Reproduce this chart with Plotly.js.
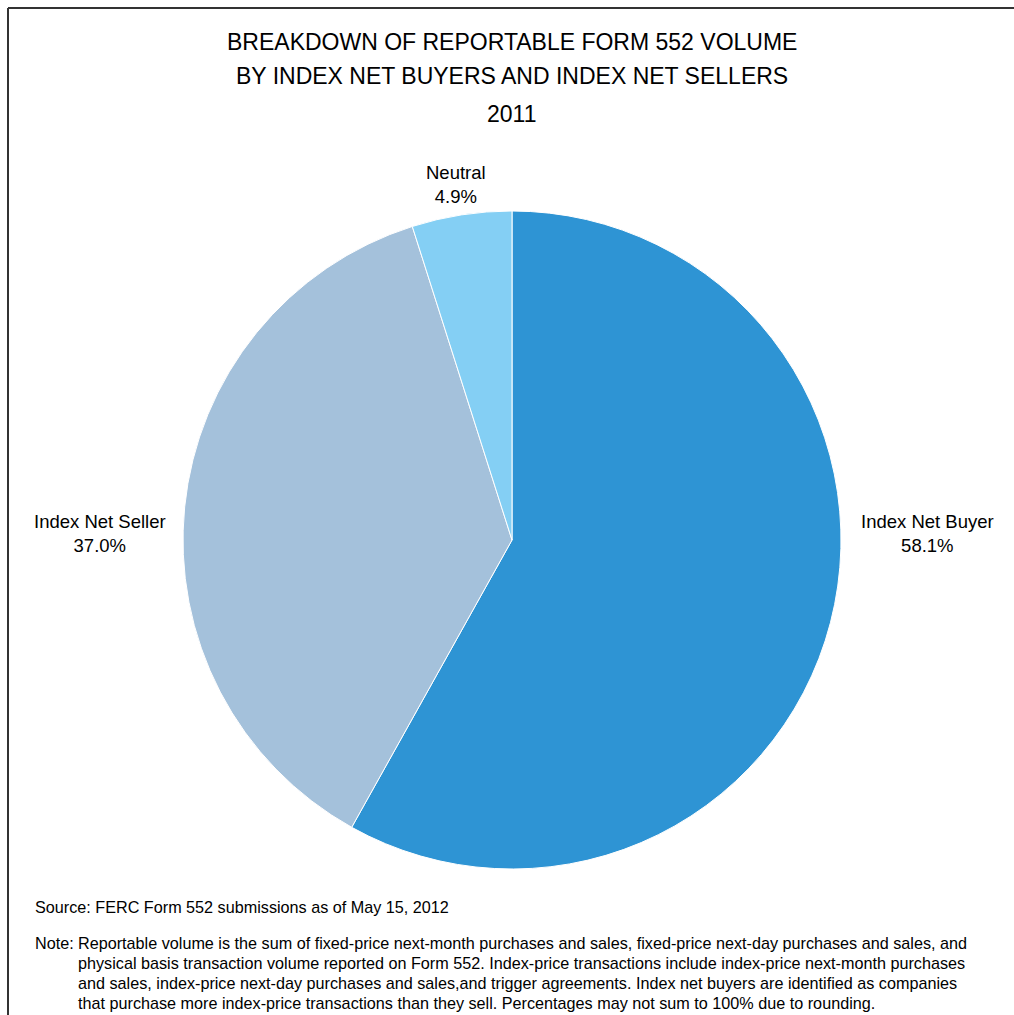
<!DOCTYPE html>
<html>
<head>
<meta charset="utf-8">
<script src="https://cdn.plot.ly/plotly-3.0.1.min.js"></script>
<style>html,body{margin:0;padding:0;background:#fff;}#chart{width:1014px;height:1015px;}</style>
</head>
<body>
<div id="chart"></div>
<script>
const categories = ["Index Net Buyer", "Index Net Seller", "Neutral"];
const shares = [58.1, 37.0, 4.9];
const sliceColors = ["#2E94D4", "#A4C1DB", "#84CFF4"];
const titleLines = ["BREAKDOWN OF REPORTABLE FORM 552 VOLUME", "BY INDEX NET BUYERS AND INDEX NET SELLERS", "2011"];
const sourceText = "Source: FERC Form 552 submissions as of May 15, 2012";
const noteLead = "Note:";
const noteLines = [
  "Reportable volume is the sum of fixed-price next-month purchases and sales, fixed-price next-day purchases and sales, and",
  "physical basis transaction volume reported on Form 552. Index-price transactions include index-price next-month purchases",
  "and sales, index-price next-day purchases and sales,and trigger agreements. Index net buyers are identified as companies",
  "that purchase more index-price transactions than they sell. Percentages may not sum to 100% due to rounding."
];

const W = 1014, H = 1015;
const px = x => x / W;
const py = y => 1 - y / H;

const labelPos = [
  {x: 927, y: 533},
  {x: 100, y: 533},
  {x: 456, y: 184}
];

const font = "Liberation Sans, Arial, sans-serif";
const annotations = [];
titleLines.forEach((t, i) => {
  annotations.push({
    xref: "paper", yref: "paper", x: 0.5047, y: py([42, 76, 114][i]),
    text: t, showarrow: false, xanchor: "center", yanchor: "middle",
    font: {family: font, size: 23, color: "#000"}
  });
});
categories.forEach((c, i) => {
  annotations.push({
    xref: "paper", yref: "paper", x: px(labelPos[i].x), y: py(labelPos[i].y),
    text: c + "<br>" + shares[i].toFixed(1) + "%", showarrow: false,
    xanchor: "center", yanchor: "middle", align: "center",
    font: {family: font, size: 18.5, color: "#000"}
  });
});
annotations.push({
  xref: "paper", yref: "paper", x: px(33), y: py(907), text: sourceText,
  showarrow: false, xanchor: "left", yanchor: "middle",
  font: {family: font, size: 16.2, color: "#000"}
});
annotations.push({
  xref: "paper", yref: "paper", x: px(33), y: py(943), text: noteLead,
  showarrow: false, xanchor: "left", yanchor: "middle",
  font: {family: font, size: 16.2, color: "#000"}
});
noteLines.forEach((t, i) => {
  annotations.push({
    xref: "paper", yref: "paper", x: px(76), y: py(943 + i * 20), text: t,
    showarrow: false, xanchor: "left", yanchor: "middle", align: "left",
    font: {family: font, size: 16.2, color: "#000"}
  });
});

const data = [{
  type: "pie",
  labels: categories,
  values: shares,
  sort: false,
  direction: "clockwise",
  rotation: 0,
  textinfo: "none",
  hoverinfo: "label+percent",
  marker: {colors: sliceColors, line: {color: "#ffffff", width: 1}},
  domain: {x: [px(183), px(841)], y: [py(869), py(211)]},
  showlegend: false
}];

const layout = {
  width: W, height: H,
  margin: {l: 0, r: 0, t: 0, b: 0},
  paper_bgcolor: "#fff",
  showlegend: false,
  annotations: annotations,
  shapes: [
    {type: "line", xref: "paper", yref: "paper", x0: px(8), x1: 1, y0: py(8), y1: py(8), line: {color: "#333", width: 2}},
    {type: "line", xref: "paper", yref: "paper", x0: px(8), x1: px(8), y0: py(8), y1: 0, line: {color: "#333", width: 2}}
  ]
};

Plotly.newPlot("chart", data, layout, {displayModeBar: false, staticPlot: true});
</script>
</body>
</html>
